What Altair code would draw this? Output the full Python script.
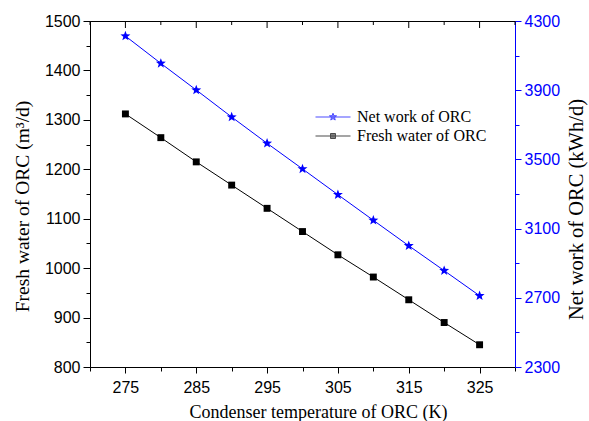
import math
import altair as alt
import pandas as pd

# ---- data ----
temps = [275, 280, 285, 290, 295, 300, 305, 310, 315, 320, 325]
fresh_water = [1312, 1264, 1215, 1168, 1121, 1074, 1027, 982, 936, 890, 845]
net_work = [4213, 4055, 3901, 3745, 3593, 3445, 3296, 3148, 3001, 2857, 2712]
series_names = ["Net work of ORC", "Fresh water of ORC"]
series_colors = ["#0000FF", "#000000"]
x_ticks = list(range(270, 331, 5))
left_ticks = list(range(800, 1501, 50))
right_ticks = list(range(2300, 4301, 200))

df = pd.DataFrame({"T": temps, "fw": fresh_water, "nw": net_work})
top_ticks = pd.DataFrame({"T": x_ticks})


def star_path(R, r, n=5):
    pts = []
    for i in range(2 * n):
        rad = R if i % 2 == 0 else r
        a = -math.pi / 2 + i * math.pi / n
        pts.append(f"{rad * math.cos(a):.3f},{rad * math.sin(a):.3f}")
    return "M" + "L".join(pts) + "Z"


STAR = star_path(1.0, 0.42)
stub = "M-3.5,0H3.5"
legend_shapes = [stub + star_path(0.75, 0.32), stub + "M-0.5,-0.5H0.5V0.5H-0.5Z"]

SANS = "Liberation Sans"
SERIF = "Liberation Serif"
BLUE = "#0000FF"

x_scale = alt.Scale(domain=[270, 330], nice=False, zero=False)

x_enc = alt.X(
    "T:Q",
    scale=x_scale,
    axis=alt.Axis(
        values=x_ticks,
        labelExpr="datum.value % 10 == 5 ? datum.label : ''",
        tickSize={"condition": {"test": "datum.value % 10 == 5", "value": 6}, "value": 4},
        title="Condenser temperature of ORC (K)",
        titleX=228,
        orient="bottom",
        grid=False,
        labelFont=SANS,
        labelFontSize=16,
        labelPadding=6,
        titleFont=SERIF,
        titleFontSize=18,
        titleFontWeight="normal",
        titlePadding=8,
        titleColor="black",
        labelColor="black",
        domainColor="black",
        tickColor="black",
    ),
)

left_scale = alt.Scale(domain=[800, 1500], nice=False, zero=False)
right_scale = alt.Scale(domain=[2300, 4300], nice=False, zero=False)

y_left = alt.Y(
    "fw:Q",
    scale=left_scale,
    axis=alt.Axis(
        values=left_ticks,
        orient="left",
        labelExpr="datum.value % 100 == 0 ? datum.label : ''",
        tickSize={"condition": {"test": "datum.value % 100 == 0", "value": 7}, "value": 4},
        title="Fresh water of ORC (m³/d)",
        titleY=185,
        format="d",
        grid=False,
        labelFont=SANS,
        labelFontSize=16,
        labelPadding=3,
        titleFont=SERIF,
        titleFontSize=19.5,
        titleFontWeight="normal",
        titlePadding=12,
        titleColor="black",
        labelColor="black",
        domainColor="black",
        tickColor="black",
    ),
)
y_left_plain = alt.Y("fw:Q", scale=left_scale, axis=None)

y_right = alt.Y(
    "nw:Q",
    scale=right_scale,
    axis=alt.Axis(
        values=right_ticks,
        orient="right",
        labelExpr="datum.value % 400 == 300 ? datum.label : ''",
        tickSize={"condition": {"test": "datum.value % 400 == 300", "value": 6}, "value": 4},
        title="Net work of ORC (kWh/d)",
        titleAngle=270,
        titleY=188,
        format="d",
        grid=False,
        labelFont=SANS,
        labelFontSize=16,
        labelPadding=3,
        titleFont=SERIF,
        titleFontSize=20.5,
        titleFontWeight="normal",
        titlePadding=27,
        titleColor="black",
        labelColor=BLUE,
        domainColor=BLUE,
        tickColor=BLUE,
    ),
)
y_right_plain = alt.Y("nw:Q", scale=right_scale, axis=None)

base = alt.Chart(df)

fw_line = base.mark_line(color="black", strokeWidth=1).encode(x=x_enc, y=y_left)
fw_pts = base.mark_point(shape="square", filled=True, size=48, color="black", opacity=1).encode(
    x=x_enc, y=y_left_plain
)
nw_line = base.mark_line(color=BLUE, strokeWidth=1).encode(x=x_enc, y=y_right)
nw_pts = base.mark_point(shape=STAR, filled=True, size=110, color=BLUE, opacity=1).encode(
    x=x_enc, y=y_right_plain
)

top_major = (
    alt.Chart(top_ticks)
    .transform_filter("datum.T % 10 == 5")
    .mark_rule(color="black", strokeWidth=1)
    .encode(x=x_enc, y=alt.value(0), y2=alt.value(7))
)
top_minor = (
    alt.Chart(top_ticks)
    .transform_filter("datum.T % 10 == 0")
    .mark_rule(color="black", strokeWidth=1)
    .encode(x=x_enc, y=alt.value(0), y2=alt.value(4))
)

legend_layer = (
    alt.Chart(pd.DataFrame({"T": [300, 300], "fw": [1000, 1000], "s": series_names}))
    .transform_filter("false")
    .mark_point(filled=True, strokeWidth=1)
    .encode(
        x=x_enc,
        y=y_left_plain,
        fill=alt.Fill(
            "s:N",
            scale=alt.Scale(domain=series_names, range=series_colors),
            legend=alt.Legend(
                title=None,
                orient="none",
                legendX=235,
                legendY=88,
                padding=0,
                rowPadding=3,
                symbolSize=100,
                symbolStrokeWidth=1,
                symbolOpacity=1,
                labelOffset=16,
                labelFont=SERIF,
                labelFontSize=16,
                labelColor="black",
                labelLimit=300,
            ),
        ),
        stroke=alt.Stroke(
            "s:N",
            scale=alt.Scale(domain=series_names, range=series_colors),
        ),
        shape=alt.Shape(
            "s:N",
            scale=alt.Scale(domain=series_names, range=legend_shapes),
        ),
    )
)

chart = (
    alt.layer(fw_line, nw_line, fw_pts, nw_pts, top_major, top_minor, legend_layer)
    .resolve_scale(y="independent")
    .properties(
        width=425,
        height=346,
        autosize=alt.AutoSizeParams(type="none"),
        padding={"left": 90, "top": 21, "right": 74, "bottom": 54},
        background="white",
    )
    .configure_view(stroke="black", strokeWidth=1)
    .configure_axis(domainWidth=1, tickWidth=1)
)

chart.save("out.html", embed_options={"renderer": "svg", "actions": False})
